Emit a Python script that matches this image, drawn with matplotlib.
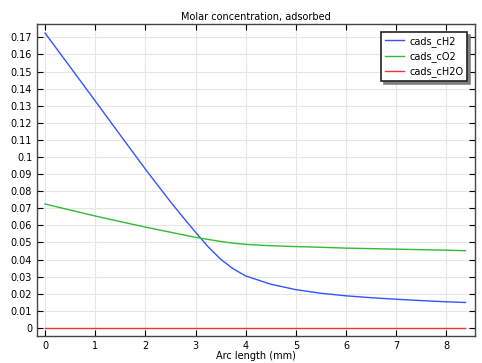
import numpy as np
import matplotlib
matplotlib.use("Agg")
import matplotlib.pyplot as plt

# Values
arc_length = [0.0, 0.5, 1.0, 1.5, 2.0, 2.5, 2.75, 3.0, 3.25, 3.5, 3.75, 4.0, 4.5, 5.0, 5.5, 6.0, 6.5, 7.0, 7.5, 8.0, 8.38]
cads_cH2 = [0.1725, 0.1527, 0.1328, 0.1128, 0.0929, 0.0738, 0.0648, 0.0560, 0.0475, 0.0402, 0.0346, 0.0304, 0.0256, 0.0224, 0.0203, 0.0188, 0.0177, 0.0168, 0.0160, 0.0153, 0.0149]
cads_cO2 = [0.0725, 0.0690, 0.0655, 0.0622, 0.0590, 0.0560, 0.0545, 0.0530, 0.0518, 0.0506, 0.0496, 0.0489, 0.0481, 0.0476, 0.0472, 0.0467, 0.0464, 0.0461, 0.0458, 0.0455, 0.0452]
cads_cH2O = [0.0] * len(arc_length)

y_ticks = np.round(np.arange(0, 0.171, 0.01), 2)
y_tick_labels = ["0"] + [f"{v:g}" for v in y_ticks[1:]]

plt.rcParams['font.family'] = 'DejaVu Sans'
fig = plt.figure(figsize=(4.82, 3.63), dpi=100)
ax = fig.add_axes([37 / 482, 1 - 336 / 363, 438 / 482, 312 / 363])

ax.plot(arc_length, cads_cH2, color='#3355ff', linewidth=1.0, label='cads_cH2')
ax.plot(arc_length, cads_cO2, color='#33bb33', linewidth=1.0, label='cads_cO2')
ax.plot(arc_length, cads_cH2O, color='#ee3333', linewidth=1.0, label='cads_cH2O')

ax.set_xlim(-0.16, 8.57)
ax.set_ylim(-0.0047, 0.1778)
ax.set_xticks(range(0, 9))
ax.set_yticks(y_ticks)
ax.set_yticklabels(y_tick_labels)
ax.tick_params(direction='in', top=True, right=True, labelsize=7, length=4, width=0.8)
ax.grid(True, color='#e6e6e6', linewidth=0.8)
ax.set_axisbelow(True)
for s in ax.spines.values():
    s.set_color('#444444')
    s.set_linewidth(1.0)

ax.set_title('Molar concentration, adsorbed', fontsize=7, pad=3)
ax.set_xlabel('Arc length (mm)', fontsize=7, labelpad=0)

leg = ax.legend(loc='upper right', fontsize=7, fancybox=False,
                shadow={'color': '#777777', 'alpha': 0.9},
                framealpha=1, edgecolor='#222222', handlelength=2.0,
                handletextpad=0.5, borderaxespad=0.8, labelspacing=0.45)
leg.get_frame().set_linewidth(1.2)

fig.savefig('out.png', dpi=100)
